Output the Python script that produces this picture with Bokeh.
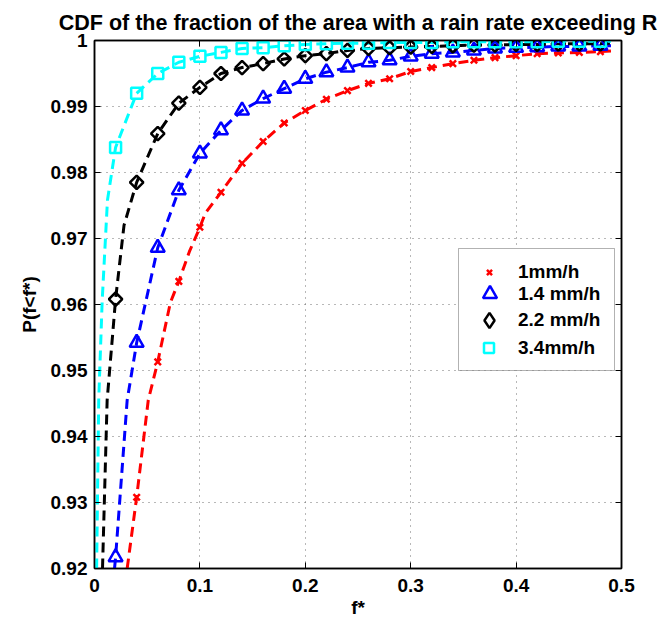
import math
from bokeh.plotting import figure
from bokeh.models import (Legend, LegendItem, FixedTicker, LinearAxis, Range1d,
                          CustomJSTickFormatter, BoxAnnotation)
from bokeh.embed import file_html
from bokeh.resources import INLINE

title_text = "CDF of the fraction of the area with a rain rate exceeding R"
x_label = "f*"
y_label = "P(f<f*)"
x_ticks = [0, 0.1, 0.2, 0.3, 0.4, 0.5]
y_ticks = [0.92, 0.93, 0.94, 0.95, 0.96, 0.97, 0.98, 0.99, 1.0]
series_labels = ["1mm/h", "1.4 mm/h", "2.2 mm/h", "3.4mm/h"]

marker_x = [0.02, 0.04, 0.06, 0.08, 0.10, 0.12, 0.14, 0.16, 0.18, 0.20, 0.22, 0.24,
            0.26, 0.28, 0.30, 0.32, 0.34, 0.36, 0.38, 0.40, 0.42, 0.44, 0.46, 0.48]
red_marker_x = [0.04, 0.06, 0.08, 0.10, 0.12, 0.14, 0.16, 0.18, 0.20, 0.22, 0.24,
                0.26, 0.28, 0.30, 0.32, 0.34, 0.36, 0.38, 0.40, 0.42, 0.44, 0.46, 0.48]
red_y = [0.9308, 0.9513, 0.9635, 0.9717, 0.9770, 0.9814, 0.9847, 0.9875, 0.9894, 0.9911,
         0.9924, 0.9935, 0.9942, 0.9953, 0.9959, 0.9965, 0.9970, 0.9974, 0.9977, 0.9980,
         0.9981, 0.9982, 0.9983]
blue_y = [0.9217, 0.9542, 0.9686, 0.9773, 0.9829, 0.9864, 0.9894, 0.9912, 0.9927, 0.9942,
          0.9952, 0.9959, 0.9967, 0.9970, 0.9976, 0.9980, 0.9982, 0.9985, 0.9988, 0.9989,
          0.9990, 0.9991, 0.9991, 0.9992]
black_y = [0.9608, 0.9785, 0.9859, 0.9905, 0.9929, 0.9950, 0.9959, 0.9965, 0.9972, 0.9977,
           0.9980, 0.9985, 0.9988, 0.9989, 0.9990, 0.9991, 0.9992, 0.9993, 0.9993, 0.9994,
           0.9994, 0.9995, 0.9995, 0.9995]
cyan_y = [0.9838, 0.9920, 0.9950, 0.9967, 0.9976, 0.9982, 0.9988, 0.9989, 0.9992, 0.9994,
          0.9995, 0.9996, 0.9996, 0.9997, 0.9997, 0.9997, 0.9998, 0.9998, 0.9998, 0.9998,
          0.9998, 0.9999, 0.9999, 0.9999]

# dashed curves (including their steep lower parts)
red_line_x = [0.031, 0.040, 0.051, 0.060, 0.072, 0.080, 0.090, 0.100, 0.105, 0.120, 0.140,
              0.160, 0.180, 0.200, 0.220, 0.240, 0.260, 0.280, 0.300, 0.320, 0.340, 0.360,
              0.380, 0.400, 0.420, 0.440, 0.460, 0.480, 0.490]
red_line_y = [0.9200, 0.9308, 0.9455, 0.9513, 0.9603, 0.9635, 0.9680, 0.9717, 0.9738, 0.9770,
              0.9814, 0.9847, 0.9875, 0.9894, 0.9911, 0.9924, 0.9935, 0.9942, 0.9953, 0.9959,
              0.9965, 0.9970, 0.9974, 0.9977, 0.9980, 0.9981, 0.9982, 0.9983, 0.9984]
blue_line_x = [0.019, 0.020, 0.031, 0.040, 0.060, 0.080, 0.100, 0.120, 0.140, 0.160, 0.180,
               0.200, 0.220, 0.240, 0.260, 0.280, 0.300, 0.320, 0.340, 0.360, 0.380, 0.400,
               0.420, 0.440, 0.460, 0.480, 0.490]
blue_line_y = [0.9200, 0.9217, 0.9455, 0.9542, 0.9686, 0.9773, 0.9829, 0.9864, 0.9894, 0.9912,
               0.9927, 0.9942, 0.9952, 0.9959, 0.9967, 0.9970, 0.9976, 0.9980, 0.9982, 0.9985,
               0.9988, 0.9989, 0.9990, 0.9991, 0.9991, 0.9992, 0.9992]
black_line_x = [0.0076, 0.012, 0.020, 0.028, 0.040, 0.060, 0.080, 0.100, 0.120, 0.140, 0.160,
                0.180, 0.200, 0.220, 0.240, 0.260, 0.280, 0.300, 0.320, 0.340, 0.360, 0.380,
                0.400, 0.420, 0.440, 0.460, 0.480, 0.490]
black_line_y = [0.9200, 0.9455, 0.9608, 0.9720, 0.9785, 0.9859, 0.9905, 0.9929, 0.9950, 0.9959,
                0.9965, 0.9972, 0.9977, 0.9980, 0.9985, 0.9988, 0.9989, 0.9990, 0.9991, 0.9992,
                0.9993, 0.9993, 0.9994, 0.9994, 0.9995, 0.9995, 0.9995, 0.9996]
cyan_line_x = [0.002, 0.004, 0.0073, 0.0123, 0.020, 0.040, 0.060, 0.080, 0.100, 0.120, 0.140,
               0.160, 0.180, 0.200, 0.220, 0.240, 0.260, 0.280, 0.300, 0.320, 0.340, 0.360,
               0.380, 0.400, 0.420, 0.440, 0.460, 0.480, 0.490]
cyan_line_y = [0.9200, 0.9455, 0.9606, 0.9758, 0.9838, 0.9920, 0.9950, 0.9967, 0.9976, 0.9982,
               0.9988, 0.9989, 0.9992, 0.9994, 0.9995, 0.9996, 0.9996, 0.9997, 0.9997, 0.9997,
               0.9998, 0.9998, 0.9998, 0.9998, 0.9998, 0.9999, 0.9999, 0.9999, 0.9999]

FONT = "Liberation Sans"

p = figure(width=660, height=623, output_backend="svg", toolbar_location=None,
           x_range=Range1d(0, 0.5), y_range=Range1d(0.92, 1.0),
           min_border_left=94, min_border_right=39, min_border_top=40, min_border_bottom=55,
           background_fill_color="white", border_fill_color="white")
p.outline_line_color = "black"
p.outline_line_width = 1.5

p.title.text = title_text
p.title.align = "center"
p.title.text_font = FONT
p.title.text_font_style = "bold"
p.title.text_font_size = "21.5px"
p.title.text_color = "black"
p.title.standoff = 12

fmt = CustomJSTickFormatter(code="return tick.toFixed(2).replace(/\\.?0+$/, '');")
empty_fmt = CustomJSTickFormatter(code="return '';")

for ax, ticks in ((p.xaxis[0], x_ticks), (p.yaxis[0], y_ticks)):
    ax.ticker = FixedTicker(ticks=ticks)
    ax.formatter = fmt
    ax.major_tick_in = 6
    ax.major_tick_out = 0
    ax.minor_tick_in = 0
    ax.minor_tick_out = 0
    ax.axis_line_color = "black"
    ax.axis_line_width = 1.5
    ax.major_tick_line_color = "black"
    ax.major_tick_line_width = 1
    ax.major_label_text_font = FONT
    ax.major_label_text_font_style = "bold"
    ax.major_label_text_font_size = "19px"
    ax.major_label_text_color = "black"
    ax.axis_label_text_font = FONT
    ax.axis_label_text_font_style = "bold"
    ax.axis_label_text_font_size = "19px"
    ax.axis_label_text_color = "black"
p.xaxis[0].major_label_standoff = 10
p.yaxis[0].major_label_standoff = 7
p.xaxis[0].axis_label = x_label
p.yaxis[0].axis_label = y_label
p.xaxis[0].axis_label_standoff = 2
p.yaxis[0].axis_label_standoff = 8

top_axis = LinearAxis(ticker=FixedTicker(ticks=x_ticks), formatter=empty_fmt,
                      major_tick_in=6, major_tick_out=0, minor_tick_in=0, minor_tick_out=0,
                      axis_line_color="black", axis_line_width=1.5,
                      major_label_text_font_size="1px", major_label_standoff=0)
right_axis = LinearAxis(ticker=FixedTicker(ticks=y_ticks), formatter=empty_fmt,
                        major_tick_in=6, major_tick_out=0, minor_tick_in=0, minor_tick_out=0,
                        axis_line_color="black", axis_line_width=1.5,
                        major_label_text_font_size="1px", major_label_standoff=0)
p.add_layout(top_axis, "above")
p.add_layout(right_axis, "right")

p.xgrid[0].ticker = FixedTicker(ticks=x_ticks)
p.ygrid[0].ticker = FixedTicker(ticks=y_ticks)
for g in (p.xgrid[0], p.ygrid[0]):
    g.grid_line_color = "#707070"
    g.grid_line_dash = "1 5"
    g.grid_line_width = 1

DASH = "10 6"
LW = 3
p.line(red_line_x, red_line_y, line_color="red", line_width=LW, line_dash=DASH)
p.line(blue_line_x, blue_line_y, line_color="blue", line_width=LW, line_dash=DASH)
p.line(black_line_x, black_line_y, line_color="black", line_width=LW, line_dash=DASH)
p.line(cyan_line_x, cyan_line_y, line_color="cyan", line_width=LW, line_dash=DASH)

r_red = p.scatter(red_marker_x, red_y, marker="x", size=9, line_color="red", line_width=2.5)
r_blue = p.scatter(marker_x, blue_y, marker="triangle", size=14, line_color="blue",
                   fill_color=None, line_width=2.5)
r_black = p.scatter(marker_x, black_y, marker="square", angle=math.pi / 4, size=9.5,
                    line_color="black", fill_color=None, line_width=2.5)
r_cyan = p.scatter(marker_x, cyan_y, marker="square", size=11, line_color="cyan",
                   fill_color=None, line_width=2.5)
# hidden twin of the diamonds, used only to draw the legend symbol
r_black_leg = p.scatter(marker_x, black_y, marker="diamond", size=14, line_color="black",
                        fill_color=None, line_width=2.5, visible=False)

# legend frame
box = BoxAnnotation(left=364, right=520, top=320, bottom=198,
                    left_units="screen", right_units="screen", top_units="screen",
                    bottom_units="screen", fill_color="white", fill_alpha=1.0,
                    line_color="black", line_width=1)
p.add_layout(box)

legend_specs = [
    (r_red, series_labels[0], 18, (386, 285), 20),
    (r_blue, series_labels[1], 35, (378, 257), 11),
    (r_black_leg, series_labels[2], 38, (376, 229), 10),
    (r_cyan, series_labels[3], 25, (382, 208), 17),
]
for rend, lab, g, loc, stand in legend_specs:
    leg = Legend(items=[LegendItem(label=lab, renderers=[rend])], location=loc,
                 glyph_width=g, glyph_height=g, padding=0, margin=0, spacing=0,
                 label_standoff=stand, label_height=22,
                 label_text_font=FONT, label_text_font_style="bold",
                 label_text_font_size="19px", label_text_color="black",
                 border_line_color=None, background_fill_alpha=0)
    p.add_layout(leg, "center")

open("out.html", "w").write(file_html(p, INLINE))
